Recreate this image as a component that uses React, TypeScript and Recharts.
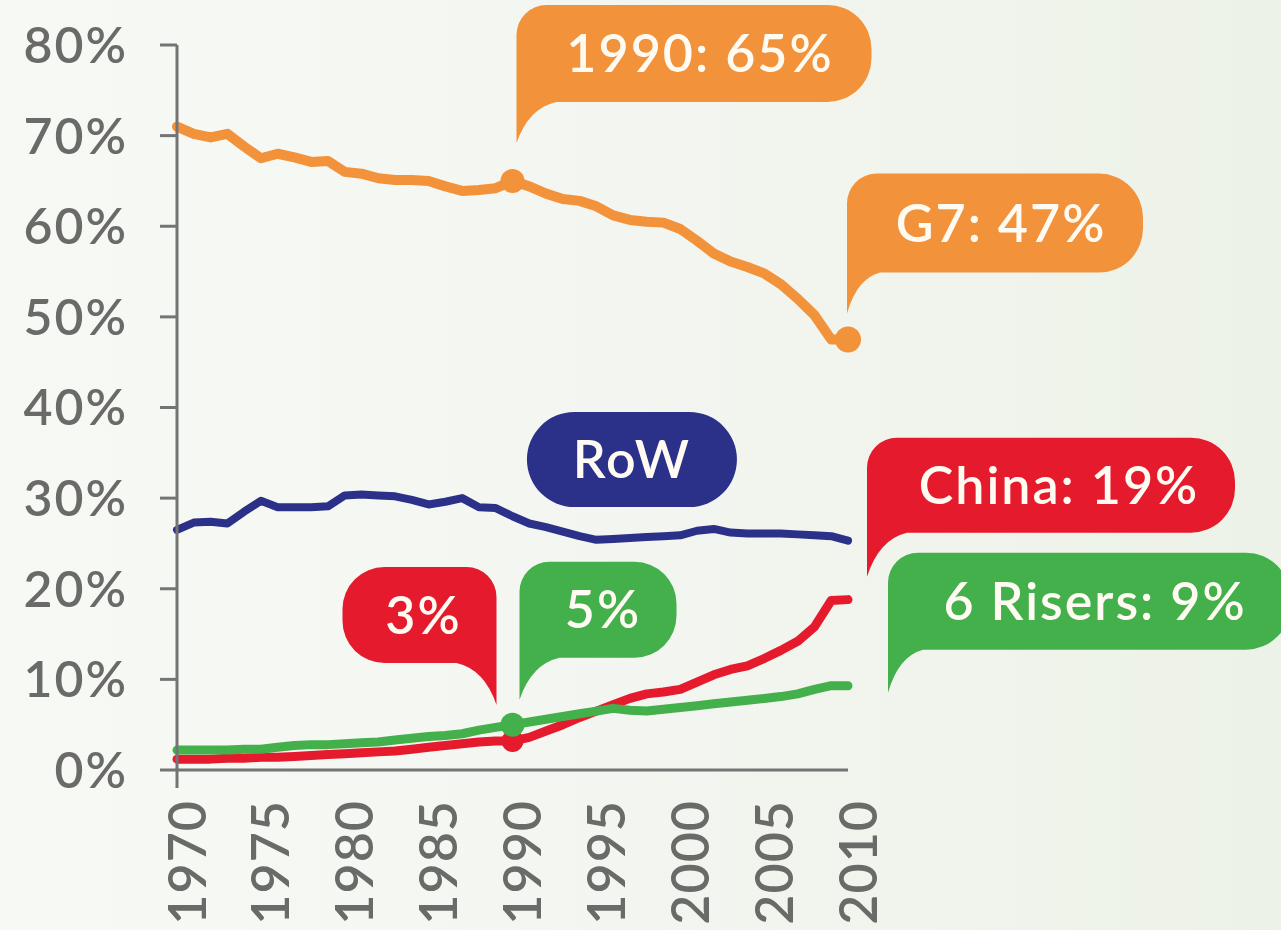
import React from 'react';
import { LineChart, Line, XAxis, YAxis, ReferenceDot } from 'recharts';

const YEARS = [1970, 1971, 1972, 1973, 1974, 1975, 1976, 1977, 1978, 1979, 1980, 1981, 1982, 1983, 1984, 1985, 1986, 1987, 1988, 1989, 1990, 1991, 1992, 1993, 1994, 1995, 1996, 1997, 1998, 1999, 2000, 2001, 2002, 2003, 2004, 2005, 2006, 2007, 2008, 2009, 2010];

const G7 = [71.0, 70.2, 69.8, 70.2, 68.8, 67.5, 68.0, 67.6, 67.1, 67.2, 66.0, 65.8, 65.3, 65.1, 65.1, 65.0, 64.4, 63.9, 64.0, 64.2, 65.0, 64.4, 63.6, 63.0, 62.8, 62.2, 61.2, 60.7, 60.5, 60.4, 59.7, 58.4, 57.0, 56.1, 55.5, 54.8, 53.6, 52.0, 50.2, 47.5, 47.5];

const ROW = [26.5, 27.3, 27.4, 27.2, 28.5, 29.7, 29.0, 29.0, 29.0, 29.1, 30.3, 30.4, 30.3, 30.2, 29.8, 29.3, 29.6, 30.0, 29.0, 28.9, 28.0, 27.2, 26.8, 26.3, 25.8, 25.4, 25.5, 25.6, 25.7, 25.8, 25.9, 26.4, 26.6, 26.2, 26.1, 26.1, 26.1, 26.0, 25.9, 25.8, 25.3];

const CHINA = [1.2, 1.2, 1.2, 1.3, 1.3, 1.4, 1.4, 1.5, 1.6, 1.7, 1.8, 1.9, 2.0, 2.1, 2.3, 2.5, 2.7, 2.9, 3.1, 3.2, 3.2, 3.6, 4.3, 5.0, 5.8, 6.5, 7.2, 7.9, 8.4, 8.6, 8.9, 9.7, 10.5, 11.1, 11.5, 12.3, 13.2, 14.2, 15.8, 18.7, 18.8];

const RISERS = [2.2, 2.2, 2.2, 2.2, 2.3, 2.3, 2.5, 2.7, 2.8, 2.8, 2.9, 3.0, 3.1, 3.3, 3.5, 3.7, 3.8, 4.0, 4.4, 4.7, 5.0, 5.3, 5.6, 5.9, 6.2, 6.5, 6.8, 6.6, 6.5, 6.7, 6.9, 7.1, 7.3, 7.5, 7.7, 7.9, 8.1, 8.4, 8.9, 9.3, 9.3];

const Y_TICKS = [0, 10, 20, 30, 40, 50, 60, 70, 80];
const X_TICKS = [1970, 1975, 1980, 1985, 1990, 1995, 2000, 2005, 2010];

const data = YEARS.map((year, i) => ({
  year,
  g7: G7[i],
  row: ROW[i],
  china: CHINA[i],
  risers: RISERS[i],
}));

const val = (arr: number[], year: number) => arr[YEARS.indexOf(year)];

const ORANGE = '#F2923A';
const NAVY = '#2B3088';
const RED = '#E51B2D';
const GREEN = '#43B04B';
const AXIS = '#747474';
const TEXT_GRAY = '#6a6b68';
const FONT = 'Lato, "Open Sans", sans-serif';

type Spec = {
  dx: number;
  dy: number;
  w: number;
  h: number;
  tail: 'left' | 'right' | 'none';
  tipDy: number;
  join: number;
  r: number;
  rr: number;
  text: string;
  color: string;
  dotR?: number;
  textDx?: number;
  fontSize?: number;
};

function bubblePath(L: number, T: number, w: number, h: number, s: Spec, tipY: number) {
  const R = L + w;
  const B = T + h;
  const r = s.r;
  const rr = s.rr;
  if (s.tail === 'left') {
    const J = L + s.join;
    return [
      `M ${L + r} ${T}`,
      `H ${R - rr}`,
      `A ${rr} ${rr} 0 0 1 ${R} ${T + rr}`,
      `V ${B - rr}`,
      `A ${rr} ${rr} 0 0 1 ${R - rr} ${B}`,
      `H ${J}`,
      `Q ${L + s.join * 0.3} ${B + (tipY - B) * 0.15} ${L} ${tipY}`,
      `V ${T + r}`,
      `A ${r} ${r} 0 0 1 ${L + r} ${T}`,
      'Z',
    ].join(' ');
  }
  if (s.tail === 'right') {
    const J = R - s.join;
    return [
      `M ${L + rr} ${T}`,
      `H ${R - r}`,
      `A ${r} ${r} 0 0 1 ${R} ${T + r}`,
      `V ${tipY}`,
      `Q ${R - s.join * 0.3} ${B + (tipY - B) * 0.15} ${J} ${B}`,
      `H ${L + rr}`,
      `A ${rr} ${rr} 0 0 1 ${L} ${B - rr}`,
      `V ${T + rr}`,
      `A ${rr} ${rr} 0 0 1 ${L + rr} ${T}`,
      'Z',
    ].join(' ');
  }
  const hr = h / 2;
  return [
    `M ${L + hr} ${T}`,
    `H ${R - hr}`,
    `A ${hr} ${hr} 0 0 1 ${R - hr} ${B}`,
    `H ${L + hr}`,
    `A ${hr} ${hr} 0 0 1 ${L + hr} ${T}`,
    'Z',
  ].join(' ');
}

const Callout = (props: any) => {
  const { cx, cy, spec } = props as { cx: number; cy: number; spec: Spec };
  if (cx == null || cy == null) return null;
  const L = cx + spec.dx;
  const T = cy + spec.dy;
  const tipY = cy + spec.tipDy;
  const fs = spec.fontSize ?? 52;
  return (
    <g>
      <path d={bubblePath(L, T, spec.w, spec.h, spec, tipY)} fill={spec.color} />
      <text
        x={L + spec.w / 2 + (spec.textDx ?? 6)}
        y={T + spec.h / 2 + fs * 0.358}
        textAnchor="middle"
        fill="#fffbf3"
        fontSize={fs}
        fontWeight={600}
        fontFamily={FONT}
        letterSpacing={2}
      >
        {spec.text}
      </text>
      {spec.dotR ? <circle cx={cx} cy={cy} r={spec.dotR} fill={spec.color} /> : null}
    </g>
  );
};

const YTick = (props: any) => {
  const { x, y, payload } = props;
  const fs = 50;
  return (
    <text
      x={x}
      y={y + fs * 0.358}
      textAnchor="end"
      fill={TEXT_GRAY}
      fontSize={fs}
      fontWeight={600}
      fontFamily={FONT}
      letterSpacing={2}
    >
      {`${payload.value}%`}
    </text>
  );
};

const XTick = (props: any) => {
  const { x, y, payload } = props;
  const fs = 52;
  const ay = y + 30;
  return (
    <g>
      {payload.value === 1970 ? (
        <line x1={x} y1={y - 2} x2={x} y2={y + 18} stroke={AXIS} strokeWidth={3} />
      ) : null}
      <text
        x={x}
        y={ay}
        dy={10 + fs * 0.358}
        transform={`rotate(-90 ${x} ${ay})`}
        textAnchor="end"
        fill={TEXT_GRAY}
        fontSize={fs}
        fontWeight={600}
        fontFamily={FONT}
        letterSpacing={1}
      >
        {payload.value}
      </text>
    </g>
  );
};

const specs: Record<string, Spec> = {
  g7_1990: { dx: 4, dy: -176, w: 355, h: 97, tail: 'left', tipDy: -38, join: 40, r: 30, rr: 44, text: '1990: 65%', color: ORANGE, dotR: 12 },
  g7_2010: { dx: -1, dy: -166, w: 296, h: 99, tail: 'left', tipDy: -26, join: 33, r: 30, rr: 44, text: 'G7: 47%', color: ORANGE, dotR: 13 },
  row: { dx: -103, dy: -126, w: 210, h: 95, tail: 'none', tipDy: 0, join: 0, r: 0, rr: 0, text: 'RoW', color: NAVY, textDx: 0 },
  china_1990: { dx: -170, dy: -174, w: 154, h: 96, tail: 'right', tipDy: -36, join: 40, r: 30, rr: 42, text: '3%', color: RED, dotR: 11, textDx: 4 },
  risers_1990: { dx: 7, dy: -163, w: 157, h: 96, tail: 'left', tipDy: -25, join: 40, r: 30, rr: 42, text: '5%', color: GREEN, dotR: 12, textDx: 5 },
  china_2010: { dx: 19, dy: -162, w: 368, h: 95, tail: 'left', tipDy: -23, join: 40, r: 30, rr: 44, text: 'China: 19%', color: RED, textDx: 8 },
  risers_2010: { dx: 40, dy: -133, w: 402, h: 97, tail: 'left', tipDy: 7, join: 35, r: 30, rr: 44, text: '6 Risers: 9%', color: GREEN, textDx: 6 },
};

export default function App() {
  return (
    <div
      style={{
        position: 'absolute',
        left: 0,
        top: 0,
        width: 1281,
        height: 930,
        overflow: 'hidden',
        background: 'linear-gradient(90deg, #f7f9f5 0%, #f3f6f0 50%, #edf2e8 100%)',
      }}
    >
      <LineChart
        width={1281}
        height={930}
        data={data}
        margin={{ top: 45, right: 433, bottom: 0, left: 0 }}
        style={{ overflow: 'visible' }}
      >
        <XAxis
          dataKey="year"
          type="number"
          domain={[1970, 2010]}
          ticks={X_TICKS}
          height={160}
          axisLine={{ stroke: AXIS, strokeWidth: 3 }}
          tickLine={false}
          tickSize={0}
          tickMargin={0}
          tick={<XTick />}
          interval={0}
        />
        <YAxis
          type="number"
          domain={[0, 80]}
          ticks={Y_TICKS}
          width={177}
          axisLine={{ stroke: AXIS, strokeWidth: 3 }}
          tickLine={{ stroke: AXIS, strokeWidth: 3 }}
          tickSize={17}
          tickMargin={32}
          tick={<YTick />}
          interval={0}
        />
        <Line dataKey="g7" stroke={ORANGE} strokeWidth={10} dot={false} activeDot={false} isAnimationActive={false} strokeLinejoin="round" strokeLinecap="round" />
        <Line dataKey="row" stroke={NAVY} strokeWidth={8} dot={false} activeDot={false} isAnimationActive={false} strokeLinejoin="round" strokeLinecap="round" />
        <Line dataKey="china" stroke={RED} strokeWidth={9} dot={false} activeDot={false} isAnimationActive={false} strokeLinejoin="round" strokeLinecap="round" />
        <Line dataKey="risers" stroke={GREEN} strokeWidth={9} dot={false} activeDot={false} isAnimationActive={false} strokeLinejoin="round" strokeLinecap="round" />
        <ReferenceDot x={1990} y={val(G7, 1990)} r={0} shape={(p: any) => <Callout {...p} spec={specs.g7_1990} />} />
        <ReferenceDot x={2010} y={val(G7, 2010)} r={0} shape={(p: any) => <Callout {...p} spec={specs.g7_2010} />} />
        <ReferenceDot x={1997} y={val(ROW, 1997)} r={0} shape={(p: any) => <Callout {...p} spec={specs.row} />} />
        <ReferenceDot x={1990} y={val(CHINA, 1990)} r={0} shape={(p: any) => <Callout {...p} spec={specs.china_1990} />} />
        <ReferenceDot x={1990} y={val(RISERS, 1990)} r={0} shape={(p: any) => <Callout {...p} spec={specs.risers_1990} />} />
        <ReferenceDot x={2010} y={val(CHINA, 2010)} r={0} shape={(p: any) => <Callout {...p} spec={specs.china_2010} />} />
        <ReferenceDot x={2010} y={val(RISERS, 2010)} r={0} shape={(p: any) => <Callout {...p} spec={specs.risers_2010} />} />
      </LineChart>
    </div>
  );
}
